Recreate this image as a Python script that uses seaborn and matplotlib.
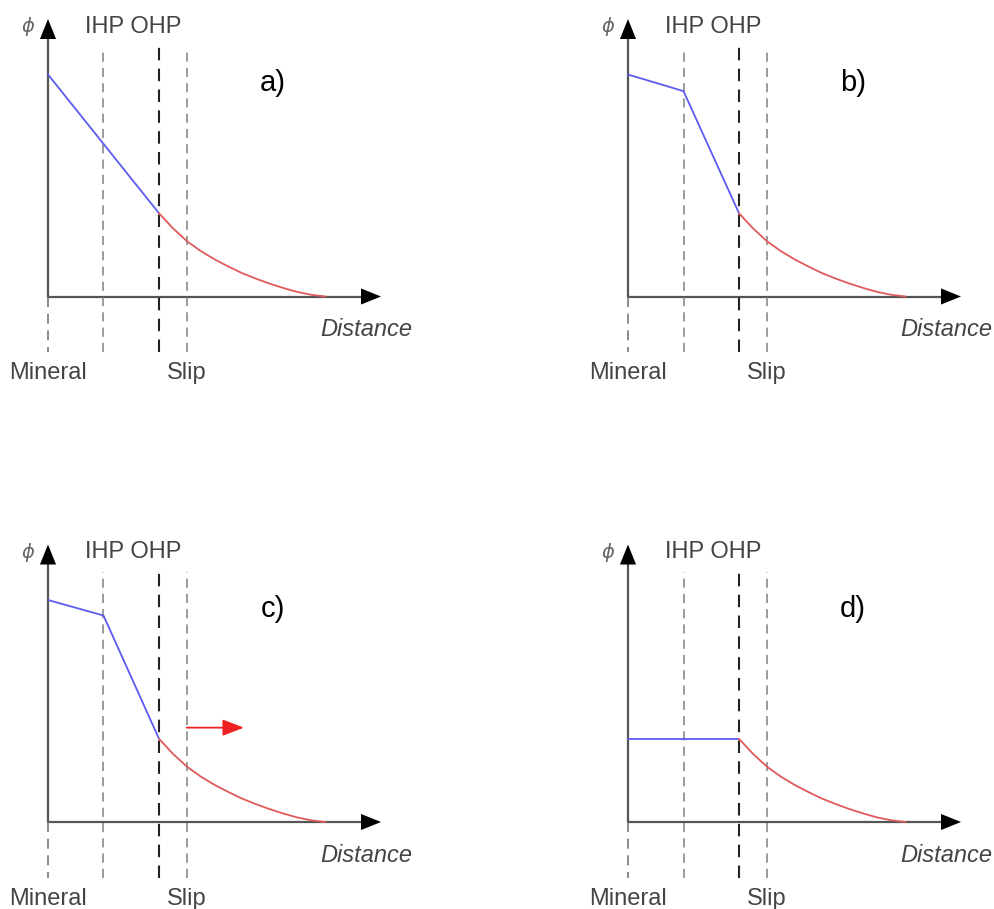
import numpy as np
import pandas as pd
import matplotlib.pyplot as plt
import seaborn as sns

sns.set_style('white')
plt.rcParams['font.family'] = ['Liberation Sans', 'DejaVu Sans']

# plane positions (distance units)
planes = ['Mineral', 'IHP', 'OHP', 'Slip']
plane_x = [0.0, 1.0, 2.0, 2.5]

# potential in the Stern layer (at Mineral, IHP, OHP) for each case
panel_labels = ['a)', 'b)', 'c)', 'd)']
stern_a = [4.0, 2.75, 1.5]
stern_b = [4.0, 3.7, 1.5]
stern_c = [4.0, 3.72, 1.5]
stern_d = [1.5, 1.5, 1.5]

# diffuse layer decay
diffuse_x = [2.0, 2.25, 2.5, 2.75, 3.0, 3.25, 3.5, 3.75, 4.0, 4.25, 4.5, 4.75, 5.0]
diffuse_y = [1.5, 1.23, 1.0, 0.82, 0.67, 0.54, 0.42, 0.32, 0.23, 0.15, 0.08, 0.03, 0.0]

# red arrow in panel c
shift_x = [2.5, 3.53]
shift_y = [1.7, 1.7]

W, H = 994, 909
px = 55.5  # pixels per unit
origins = [(48, 296.5), (628, 296.5), (48, 822), (628, 822)]
stern = [stern_a, stern_b, stern_c, stern_d]

fig = plt.figure(figsize=(W / 100, H / 100), dpi=100)
axis_col = '#555555'
text_col = '#444444'
head = '-|>,head_length=0.72,head_width=0.29'

for i, (ox, oy) in enumerate(origins):
    left_px, right_px = 48, 366
    up_px, down_px = 292, 87
    ax = fig.add_axes([(ox - left_px) / W, (H - (oy + down_px)) / H,
                       (left_px + right_px) / W, (up_px + down_px) / H])

    # axes with arrow heads
    ax.plot([0, 5.7], [0, 0], color=axis_col, lw=1.6)
    ax.plot([0, 0], [0, 4.7], color=axis_col, lw=1.6)
    ax.annotate('', xy=(6.0, 0), xytext=(5.5, 0),
                arrowprops=dict(arrowstyle=head, mutation_scale=20,
                                color='black', lw=0, shrinkA=0, shrinkB=0))
    ax.annotate('', xy=(0, 5.0), xytext=(0, 4.5),
                arrowprops=dict(arrowstyle=head, mutation_scale=20,
                                color='black', lw=0, shrinkA=0, shrinkB=0))

    # dashed plane markers
    ax.plot([0, 0], [0, -1.0], color='#777777', lw=1.2, ls=(0, (6, 4)))
    for name, xv in zip(planes[1:], plane_x[1:]):
        col = '#222222' if name == 'OHP' else '#808080'
        lw = 1.5 if name == 'OHP' else 1.1
        ax.plot([xv, xv], [-1.0, 4.5], color=col, lw=lw, ls=(0, (6, 4)))

    # potential profile
    stern_df = pd.DataFrame({'x': plane_x[:3], 'phi': stern[i]})
    diffuse_df = pd.DataFrame({'x': diffuse_x, 'phi': diffuse_y})
    sns.lineplot(data=stern_df, x='x', y='phi', ax=ax, color='#5b5bf0', lw=1.3,
                 sort=False, estimator=None)
    sns.lineplot(data=diffuse_df, x='x', y='phi', ax=ax, color='#e05a5a', lw=1.3,
                 sort=False, estimator=None)
    ax.set_xlim(-left_px / px, right_px / px)
    ax.set_ylim(-down_px / px, up_px / px)
    ax.axis('off')

    if i == 2:
        ax.annotate('', xy=(shift_x[1], shift_y[1]), xytext=(shift_x[0], shift_y[0]),
                    arrowprops=dict(arrowstyle='-|>,head_length=0.65,head_width=0.25',
                                    mutation_scale=20, color='#ee2222', lw=1.3,
                                    shrinkA=0, shrinkB=0))

    # labels
    ax.text(-0.36, 4.86, r'$\phi$', color='#666666', fontsize=14,
            ha='center', va='center')
    ax.text(1.53, 4.86, 'IHP OHP', color=text_col, fontsize=17,
            ha='center', va='center')
    ax.text(4.05, 3.84, panel_labels[i], color='black', fontsize=21,
            ha='center', va='center')
    ax.text(6.56, -0.6, 'Distance', color=text_col, fontsize=17,
            style='italic', ha='right', va='center')
    ax.text(0.0, -1.38, 'Mineral', color=text_col, fontsize=17,
            ha='center', va='center')
    ax.text(2.5, -1.38, 'Slip', color=text_col, fontsize=17,
            ha='center', va='center')

fig.savefig('out.png', dpi=100)
